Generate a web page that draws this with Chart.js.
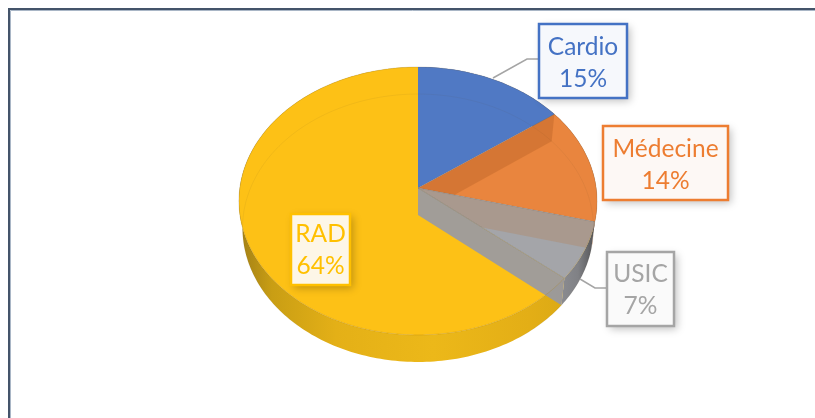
<!DOCTYPE html>
<html>
<head>
<meta charset="utf-8">
<script src="https://cdn.jsdelivr.net/npm/chart.js@4"></script>
<style>
  html, body { margin: 0; padding: 0; background: #fff; overflow: hidden; }
  #wrap { position: relative; width: 815px; height: 418px; }
</style>
</head>
<body>
<div id="wrap"><canvas id="myChart" width="815" height="418"></canvas></div>
<script>
// data
const categories = ['Cardio', 'Médecine', 'USIC', 'RAD'];
const shares = [15, 14, 7, 64];
const shareLabels = ['15%', '14%', '7%', '64%'];

// colours per slice
const faceColors = ['#5079c4', '#e9853e', '#a4a5a9', '#fdc116'];
const lineColors = ['#4472c4', '#ed7d31', '#a5a5a5', '#ffc000'];
const boxFills = ['#f6f8fc', '#fdf8f5', '#fafafa', '#fdf6e7'];

// label boxes [x, y, w, h] and first baseline
const boxes = [
    [539, 24, 88, 74, 55],
    [603, 126, 125, 74, 157],
    [607, 252, 67, 74, 282],
    [291, 214, 59, 71, 242]
];
const lineGap = 32;
const leaders = [
    [[493, 78], [527, 59], [539, 59]],
    null,
    [[580, 279], [595, 288], [607, 288]],
    null
];

// pie perspective: how the flat pie is tipped back into the picture
const view = { sx: 178.2 / 121, sy: 132.7 / 121, k: -0.097, depth: 27, floorX: 0.98 };

// flat pie point -> picture point
function project(el, a, down) {
    const X = Math.cos(a), Y = Math.sin(a);
    const w = 1 + view.k * Y;
    const r = el.outerRadius;
    return {
        x: el.x + r * view.sx * X / w * (down ? view.floorX : 1),
        y: el.y + r * view.sy * Y / w + (down ? view.depth : 0)
    };
}

function rimPath(ctx, el, a0, a1, down, move) {
    const n = Math.max(2, Math.ceil(Math.abs(a1 - a0) / 0.02));
    for (let i = 0; i <= n; i++) {
        const p = project(el, a0 + (a1 - a0) * i / n, down);
        if (i === 0 && move) ctx.moveTo(p.x, p.y);
        else ctx.lineTo(p.x, p.y);
    }
}

function facePath(ctx, el) {
    ctx.beginPath();
    ctx.moveTo(el.x, el.y);
    rimPath(ctx, el, el.startAngle, el.endAngle, false, false);
    ctx.closePath();
}

// the wall standing on a radial cut
function cutWall(ctx, el, a) {
    const top = project(el, a, false);
    const low = project(el, a, true);
    ctx.beginPath();
    ctx.moveTo(el.x, el.y);
    ctx.lineTo(top.x, top.y);
    ctx.lineTo(low.x, low.y);
    ctx.lineTo(el.x, el.y + view.depth);
    ctx.closePath();
}

const sideGradients = [
    [[0, '#3d5f9e'], [1, '#3d5f9e']],
    [[0, '#b8622a'], [1, '#b8622a']],
    [[0, '#8e8f94'], [0.55, '#808185'], [1, '#4c4c4e']],
    [[0, '#a38016'], [0.1, '#c99e14'], [0.3, '#e4b017'], [0.6, '#ecb819'], [0.9, '#e3ae16'], [1, '#dcaa15']]
];

const pie3d = {
    id: 'pie3d',
    beforeDraw(chart) {
        // frame of the sheet
        const ctx = chart.ctx;
        ctx.save();
        ctx.strokeStyle = '#44546a';
        ctx.lineWidth = 2;
        ctx.beginPath();
        ctx.moveTo(9, 418);
        ctx.lineTo(9, 9);
        ctx.lineTo(815, 9);
        ctx.stroke();
        ctx.strokeStyle = '#a9b6c6';
        ctx.lineWidth = 1;
        ctx.beginPath();
        ctx.moveTo(10.5, 418);
        ctx.lineTo(10.5, 10.5);
        ctx.lineTo(815, 10.5);
        ctx.stroke();
        ctx.restore();
    },
    beforeDatasetDraw(chart) {
        const ctx = chart.ctx;
        const arcs = chart.getDatasetMeta(0).data;

        ctx.save();
        // outer side of the pie
        arcs.forEach((el, i) => {
            const stops = sideGradients[i];
            const left = i === 3 ? 240 : 555;
            const right = i === 3 ? 562 : 597;
            const g = ctx.createLinearGradient(left, 0, right, 0);
            stops.forEach(s => g.addColorStop(s[0], s[1]));
            ctx.fillStyle = g;
            ctx.beginPath();
            rimPath(ctx, el, el.startAngle, el.endAngle, false, true);
            rimPath(ctx, el, el.endAngle, el.startAngle, true, false);
            ctx.closePath();
            ctx.fill();
        });

        // top faces
        arcs.forEach((el, i) => {
            facePath(ctx, el);
            ctx.fillStyle = faceColors[i];
            ctx.fill();
        });

        // cut walls seen through the faces
        const wallColors = ['rgba(170,85,30,0.3)', 'rgba(170,148,132,0.72)', 'rgba(145,150,175,0.85)'];
        for (let i = 0; i < 3; i++) {
            const a = arcs[i].endAngle;
            ctx.save();
            if (i < 2) {
                facePath(ctx, arcs[i + 1]);
                ctx.clip();
            }
            cutWall(ctx, arcs[i], a);
            ctx.fillStyle = wallColors[i];
            ctx.fill();
            ctx.restore();
        }

        // floor rim showing through the faces
        const el0 = arcs[0];
        ctx.beginPath();
        rimPath(ctx, el0, Math.PI * 0.72, Math.PI * 2.32, true, true);
        ctx.strokeStyle = 'rgba(90,70,40,0.07)';
        ctx.lineWidth = 1;
        ctx.stroke();

        // front rim of the top face
        ctx.beginPath();
        rimPath(ctx, el0, Math.PI * 0.1, Math.PI * 0.95, false, true);
        ctx.strokeStyle = 'rgba(170,125,20,0.3)';
        ctx.stroke();

        // outline round the back of the top face
        ctx.beginPath();
        rimPath(ctx, el0, Math.PI * 0.95, Math.PI * 2.1, false, true);
        ctx.strokeStyle = 'rgba(110,90,60,0.2)';
        ctx.stroke();

        // cut lines
        for (let i = 0; i < 3; i++) {
            const p = project(arcs[i], arcs[i].endAngle, false);
            ctx.beginPath();
            ctx.moveTo(arcs[i].x, arcs[i].y);
            ctx.lineTo(p.x, p.y);
            ctx.strokeStyle = 'rgba(110,110,110,0.35)';
            ctx.stroke();
        }
        ctx.restore();
        return false; // faces already drawn
    },
    afterDatasetsDraw(chart) {
        const ctx = chart.ctx;
        ctx.save();
        // leader lines
        ctx.strokeStyle = '#a5a5a5';
        ctx.lineWidth = 1.5;
        leaders.forEach(pts => {
            if (!pts) return;
            ctx.beginPath();
            pts.forEach((p, i) => i ? ctx.lineTo(p[0], p[1]) : ctx.moveTo(p[0], p[1]));
            ctx.stroke();
        });

        categories.forEach((name, i) => {
            const [x, y, w, h, base] = boxes[i];
            ctx.save();
            ctx.shadowColor = 'rgba(0,0,0,0.25)';
            ctx.shadowBlur = 8;
            ctx.shadowOffsetX = 3;
            ctx.shadowOffsetY = 3;
            ctx.fillStyle = boxFills[i];
            ctx.fillRect(x, y, w, h);
            ctx.restore();
            ctx.strokeStyle = lineColors[i];
            ctx.lineWidth = 2.5;
            ctx.strokeRect(x, y, w, h);

            ctx.fillStyle = lineColors[i];
            ctx.font = '24.5px Lato';
            ctx.textAlign = 'center';
            ctx.textBaseline = 'alphabetic';
            ctx.fillText(name, x + w / 2, base);
            ctx.fillText(shareLabels[i], x + w / 2, base + lineGap);
        });
        ctx.restore();
    }
};

// config
const config = {
    type: 'pie',
    data: {
        labels: categories,
        datasets: [{
            data: shares,
            backgroundColor: faceColors,
            borderWidth: 0
        }]
    },
    options: {
        responsive: false,
        animation: false,
        layout: { padding: { left: 21, right: 0, top: 67, bottom: 109 } },
        plugins: {
            legend: { display: false },
            tooltip: { enabled: false }
        }
    },
    plugins: [pie3d]
};

// render init block
const myChart = new Chart(document.getElementById('myChart'), config);
</script>
</body>
</html>
